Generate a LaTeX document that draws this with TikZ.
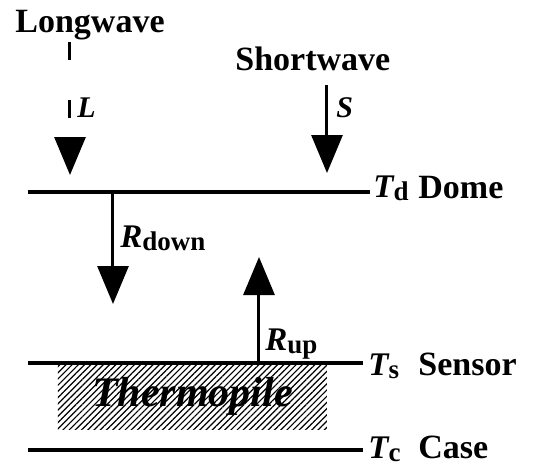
\documentclass[tikz,border=0pt]{standalone}
\usepackage{fontspec}
\setmainfont{Liberation Serif}
\usetikzlibrary{arrows.meta,patterns.meta}

\newcommand{\subtxt}[1]{\raisebox{-2pt}{\fontsize{13.5}{15}\selectfont\upshape #1}}

\tikzset{
  plate/.style={line width=2pt},
  flux/.style={line width=1.5pt,-{Triangle[length=19pt,width=15.5pt]}},
  word/.style={font=\fontsize{17}{20}\selectfont\bfseries,anchor=base west,inner sep=0pt},
  sym/.style={font=\fontsize{16.5}{20}\selectfont\bfseries\itshape,anchor=base west,inner sep=0pt},
  fluxlab/.style={font=\fontsize{15}{18}\selectfont\bfseries\itshape,anchor=base west,inner sep=0pt},
  thermo/.style={pattern={Lines[angle=45,distance=2.2pt,line width=0.6pt]},
    minimum width=134.5pt,minimum height=33.5pt,inner sep=0pt,
    font=\fontsize{21}{24}\selectfont\bfseries\itshape}
}

\begin{document}
\begin{tikzpicture}[x=0.5pt,y=0.5pt]
  \useasboundingbox (0,0) rectangle (538,468);

  % plates
  \coordinate (domeL) at (28,276);   \coordinate (domeR) at (370,276);
  \coordinate (sensL) at (28,105);   \coordinate (sensR) at (363,105);
  \coordinate (caseL) at (28,18);    \coordinate (caseR) at (363,18);
  \draw[plate] (domeL) -- (domeR);
  \draw[plate] (sensL) -- (sensR);
  \draw[plate] (caseL) -- (caseR);

  % thermopile
  \node[thermo] (pile) at (192.5,71.5) {Thermopile};

  % temperatures and names
  \node[sym] (Td) at (373,271) {T\subtxt{d}};
  \node[sym] (Ts) at (368,93) {T\subtxt{s}};
  \node[sym] (Tc) at (368,10) {T\subtxt{c}};
  \node[word] (dome) at (418,270) {Dome};
  \node[word] (sensor) at (418,93) {Sensor};
  \node[word] (case) at (418,10) {Case};

  % incoming radiation
  \node[word] (longwave) at (15,436) {Longwave};
  \node[word] (shortwave) at (235,398) {Shortwave};
  \coordinate (lwTop) at (70,426);  \coordinate (lwTip) at (70,293);
  \coordinate (swTop) at (327,383); \coordinate (swTip) at (327,295);
  \draw[flux,dash pattern=on 9pt off 20pt] (lwTop) -- (lwTip);
  \draw[flux] (swTop) -- (swTip);
  \node[fluxlab] (L) at (77,351) {L};
  \node[fluxlab] (S) at (336,351) {S};

  % exchange between dome and sensor
  \coordinate (rdTop) at (113,276); \coordinate (rdTip) at (113,164);
  \coordinate (ruBot) at (259,105); \coordinate (ruTip) at (259,211);
  \draw[flux] (rdTop) -- (rdTip);
  \draw[flux] (ruBot) -- (ruTip);
  \node[sym] (Rdown) at (120,221) {R\subtxt{down}};
  \node[sym] (Rup) at (265,118) {R\subtxt{up}};
\end{tikzpicture}
\end{document}
